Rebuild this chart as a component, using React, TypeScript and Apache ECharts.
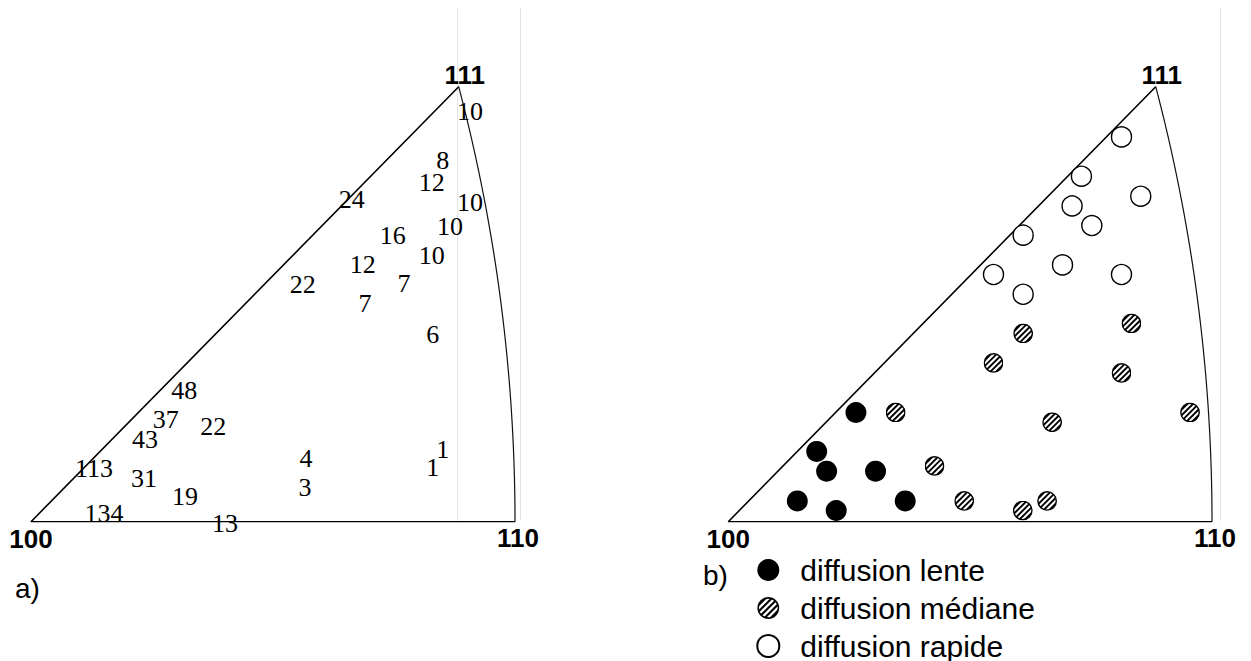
import React, { useEffect, useRef } from 'react';
import * as echarts from 'echarts';

// Stereographic coordinates of the standard triangle corners (projection centred on [100])
const cornerNames = ['100', '110', '111'];
const cornerU = [0, 0.41421, 0.36603];
const cornerV = [0, 0, 0.36603];

// Panel a): number of grains at each orientation
const countValues = [10, 8, 12, 24, 10, 10, 16, 10, 12, 22, 7, 7, 6, 48, 37, 22, 43, 1, 113, 4, 1, 31, 3, 19, 134, 13];
const countU = [0.3757, 0.3523, 0.3429, 0.2745, 0.3757, 0.3586, 0.3095, 0.3429, 0.2839, 0.2325, 0.3192, 0.2858, 0.3438, 0.1312, 0.1153, 0.1560, 0.0976, 0.3523, 0.0539, 0.2353, 0.3438, 0.0967, 0.2345, 0.1318, 0.0625, 0.1660];
const countV = [0.3450, 0.3043, 0.2852, 0.2713, 0.2684, 0.2488, 0.2412, 0.2244, 0.2160, 0.1997, 0.2006, 0.1838, 0.1577, 0.1108, 0.0862, 0.0799, 0.0693, 0.0609, 0.0449, 0.0533, 0.0458, 0.0365, 0.0289, 0.0210, 0.0065, -0.0019];

// Panel b): diffusion classes
const slowU = [0.1093, 0.0757, 0.0842, 0.1261, 0.0591, 0.1515, 0.0924];
const slowV = [0.0919, 0.0591, 0.0425, 0.0425, 0.0175, 0.0175, 0.0094];
const medianU = [0.3452, 0.2525, 0.2271, 0.3367, 0.1433, 0.2773, 0.3954, 0.1766, 0.2020, 0.2730, 0.2522];
const medianV = [0.1668, 0.1584, 0.1336, 0.1252, 0.0919, 0.0837, 0.0919, 0.0469, 0.0175, 0.0175, 0.0094];
const fastU = [0.3367, 0.3024, 0.3532, 0.2944, 0.3113, 0.2525, 0.2862, 0.3367, 0.2271, 0.2525];
const fastV = [0.3238, 0.2907, 0.2739, 0.2657, 0.2492, 0.2411, 0.2161, 0.2080, 0.2080, 0.1914];

const legendNames = ['diffusion lente', 'diffusion médiane', 'diffusion rapide'];
const panelTags = ['a)', 'b)'];

const SERIF = "'Liberation Serif', 'Times New Roman', serif";
const SANS = "'Liberation Sans', Arial, sans-serif";

// hatched circle marker (white disc with "////" stripes and a black rim)
function hatchedDisc(): string {
  const lines: string[] = [];
  for (let k = -4; k <= 4; k++) {
    const c = 20 + k * 5.66;
    lines.push(`<line x1="${(c - 20).toFixed(2)}" y1="20" x2="${c.toFixed(2)}" y2="0"/>`);
  }
  const svg =
    '<svg xmlns="http://www.w3.org/2000/svg" width="40" height="40" viewBox="0 0 20 20">' +
    '<defs><clipPath id="c"><circle cx="10" cy="10" r="9.2"/></clipPath></defs>' +
    '<circle cx="10" cy="10" r="9.2" fill="#fff"/>' +
    `<g clip-path="url(#c)" stroke="#000" stroke-width="1.9">${lines.join('')}</g>` +
    '<circle cx="10" cy="10" r="9.2" fill="none" stroke="#000" stroke-width="1.4"/>' +
    '</svg>';
  return 'image://data:image/svg+xml;charset=utf-8,' + encodeURIComponent(svg);
}

// great circle 110 - 111 (plane x = y) in stereographic projection
function zoneArc(n: number): number[][] {
  const T = Math.atan(1 / Math.SQRT2);
  const pts: number[][] = [];
  for (let i = 0; i <= n; i++) {
    const t = T * (1 - i / n);
    const a = Math.cos(t) / Math.SQRT2;
    pts.push([a / (1 + a), Math.sin(t) / (1 + a)]);
  }
  return pts;
}

const zip = (u: number[], v: number[]) => u.map((x, i) => [x, v[i]]);

const cornerLabelOffsets = [[0, 17], [3, 16], [6, -12]];

function frameSeries(g: number): any[] {
  return [
    {
      type: 'line',
      xAxisIndex: g,
      yAxisIndex: g,
      data: [[cornerU[1], cornerV[1]], [cornerU[0], cornerV[0]], [cornerU[2], cornerV[2]]],
      symbol: 'none',
      silent: true,
      lineStyle: { color: '#000', width: 1.6 },
      z: 3,
    },
    {
      type: 'line',
      xAxisIndex: g,
      yAxisIndex: g,
      data: zoneArc(60),
      symbol: 'none',
      silent: true,
      lineStyle: { color: '#111', width: 1.2 },
      z: 3,
    },
    {
      type: 'scatter',
      xAxisIndex: g,
      yAxisIndex: g,
      clip: false,
      silent: true,
      symbolSize: 1,
      itemStyle: { color: 'rgba(0,0,0,0)', opacity: 1 },
      data: cornerNames.map((n, i) => ({
        value: [cornerU[i], cornerV[i], n],
        label: { offset: cornerLabelOffsets[i] },
      })),
      label: {
        show: true,
        position: 'inside',
        formatter: (p: any) => p.value[2],
        fontFamily: SANS,
        fontWeight: 'bold',
        fontSize: 26,
        color: '#000',
      },
      z: 4,
    },
  ];
}

export default function App() {
  const ref = useRef<HTMLDivElement>(null);
  useEffect(() => {
    if (!ref.current) return;
    const chart = echarts.init(ref.current, undefined, { renderer: 'svg' });
    const hatch = hatchedDisc();
    const axisX = (g: number) => ({
      type: 'value', gridIndex: g, min: 0, max: cornerU[1], show: false,
    });
    const axisY = (g: number) => ({
      type: 'value', gridIndex: g, min: 0, max: cornerV[2], show: false,
    });
    const symbolBase = {
      type: 'scatter',
      xAxisIndex: 1,
      yAxisIndex: 1,
      clip: false,
      z: 5,
    };
    chart.setOption({
      animation: false,
      backgroundColor: '#fff',
      grid: [
        { left: 31, top: 86.7, width: 484, height: 435 },
        { left: 728.3, top: 86.7, width: 483.7, height: 435 },
      ],
      xAxis: [axisX(0), axisX(1)],
      yAxis: [axisY(0), axisY(1)],
      legend: {
        orient: 'vertical',
        left: 741.3,
        top: 555,
        height: 140,
        padding: 0,
        itemWidth: 54,
        itemHeight: 22,
        itemGap: 8,
        selectedMode: false,
        data: [
          { name: legendNames[0], icon: 'circle' },
          { name: legendNames[1], icon: hatch },
          { name: legendNames[2], icon: 'circle' },
        ],
        textStyle: { fontFamily: SANS, fontSize: 30, color: '#000', lineHeight: 29 },
      },
      graphic: [
        { type: 'line', shape: { x1: 457.7, y1: 8, x2: 457.7, y2: 520.5 }, style: { stroke: '#e2e2e2', lineWidth: 1 }, z: 0 },
        { type: 'line', shape: { x1: 520.5, y1: 8, x2: 520.5, y2: 520.5 }, style: { stroke: '#e2e2e2', lineWidth: 1 }, z: 0 },
        { type: 'line', shape: { x1: 1220.5, y1: 8, x2: 1220.5, y2: 521 }, style: { stroke: '#e6e6e6', lineWidth: 1 }, z: 0 },
        {
          type: 'text', left: 15, top: 574,
          style: { text: panelTags[0], fontFamily: SANS, fontSize: 28, fill: '#000' },
        },
        {
          type: 'text', left: 703, top: 561,
          style: { text: panelTags[1], fontFamily: SANS, fontSize: 28, fill: '#000' },
        },
      ],
      series: [
        ...frameSeries(0),
        {
          type: 'scatter',
          name: 'counts',
          xAxisIndex: 0,
          yAxisIndex: 0,
          clip: false,
          silent: true,
          symbolSize: 1,
          itemStyle: { color: 'rgba(0,0,0,0)', opacity: 1 },
          data: countValues.map((c, i) => [countU[i], countV[i], c]),
          label: {
            show: true,
            position: 'inside',
            formatter: (p: any) => String(p.value[2]),
            fontFamily: SERIF,
            fontSize: 26,
            color: '#000',
          },
          z: 5,
        },
        ...frameSeries(1),
        {
          ...symbolBase,
          name: legendNames[0],
          symbolSize: 21,
          itemStyle: { color: '#000', borderColor: '#000', borderWidth: 0, opacity: 1 },
          data: zip(slowU, slowV),
        },
        {
          ...symbolBase,
          name: legendNames[1],
          symbol: hatch,
          symbolSize: 20,
          itemStyle: { color: '#fff', opacity: 1 },
          data: zip(medianU, medianV),
        },
        {
          ...symbolBase,
          name: legendNames[2],
          symbolSize: 20,
          itemStyle: { color: '#fff', borderColor: '#000', borderWidth: 1.4, opacity: 1 },
          data: zip(fastU, fastV),
        },
      ],
    });
    return () => chart.dispose();
  }, []);
  return (
    <div
      ref={ref}
      style={{ position: 'fixed', left: 0, top: 0, width: 1251, height: 661, background: '#fff' }}
    />
  );
}
